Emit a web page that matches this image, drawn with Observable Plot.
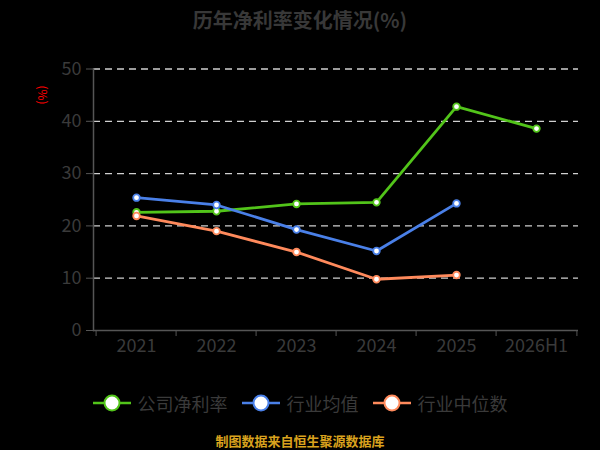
<!DOCTYPE html>
<html><head><meta charset="utf-8">
<script src="https://cdn.jsdelivr.net/npm/d3@7"></script>
<script src="https://cdn.jsdelivr.net/npm/@observablehq/plot@0.6"></script>
<style>
body{margin:0;background:#000;}
#c{position:relative;width:600px;height:450px;background:#000;font-family:"Noto Sans CJK SC","Noto Sans",sans-serif;overflow:hidden}
#title{position:absolute;left:0;top:5px;width:600px;text-align:center;font-size:20px;font-weight:bold;color:#383838;line-height:30px}
#ylab{position:absolute;left:33px;top:88px;color:#ff0000;font-size:12px;transform:rotate(90deg);transform-origin:center;line-height:14px}
#chart{position:absolute;left:0;top:40px}
#legend{position:absolute;left:0;top:390px;width:600px;display:flex;justify-content:center;align-items:center;height:26px}
.item{display:flex;align-items:center;margin:0 7px;font-size:18px;color:#3a3a3a}
.item svg{margin-right:7px}
#foot{position:absolute;left:0;top:432px;width:600px;text-align:center;font-size:13px;font-weight:bold;color:#d9a21e;line-height:18px}
</style></head><body><div id="c">
<div id="title">历年净利率变化情况(%)</div>
<div id="ylab">(%)</div>
<div id="chart"></div>
<div id="legend"></div>
<div id="foot">制图数据来自恒生聚源数据库</div>
</div>
<script>
const years = ["2021","2022","2023","2024","2025","2026H1"];
const company = [22.6, 22.8, 24.2, 24.5, 42.8, 38.6];
const industryMean = [25.4, 24.0, 19.3, 15.2, 24.3];
const industryMedian = [21.9, 19.0, 15.0, 9.8, 10.6];
const yTicks = [0, 10, 20, 30, 40, 50];
const seriesNames = ["公司净利率", "行业均值", "行业中位数"];
const colors = ["#52c41a", "#4a80e8", "#ff8a5c"];

const seriesValues = [company, industryMean, industryMedian];
const rows = [];
seriesValues.forEach((vals, i) => vals.forEach((v, j) => rows.push({year: years[j], value: v, series: seriesNames[i]})));

const ml = 93, mr = 22, W = 600;
const bw = (W - ml - mr) / years.length;
const font = '"Noto Sans CJK SC","Noto Sans",sans-serif';

const plot = Plot.plot({
  width: W, height: 330,
  marginLeft: ml, marginRight: mr, marginTop: 28.5, marginBottom: 40,
  style: {background: "transparent", color: "#3a3a3a", fontSize: "18px", fontFamily: font},
  x: {type: "band", domain: years, padding: 0},
  y: {domain: [0, 50]},
  color: {domain: seriesNames, range: colors},
  marks: [
    Plot.gridY(yTicks.filter(t => t > 0), {stroke: "#d0d0d0", strokeOpacity: 1, strokeDasharray: "7,5", strokeWidth: 1.3}),
    Plot.axisY({ticks: yTicks, tickSize: 7, tickPadding: 5, stroke: "#555", fill: "#3a3a3a", fontSize: 18, label: null}),
    Plot.axisX({tickSize: 0, tickPadding: 9, fill: "#3a3a3a", fontSize: 18, label: null}),
    Plot.axisX({ticks: years, tickSize: 6, tickFormat: () => "", dx: -bw / 2, stroke: "#555", label: null}),
    Plot.axisX({ticks: [years[years.length - 1]], tickSize: 6, tickFormat: () => "", dx: bw / 2, stroke: "#555", label: null}),
    Plot.frame({anchor: "left", stroke: "#555", strokeWidth: 1.5}),
    Plot.ruleY([0], {stroke: "#555", strokeWidth: 1.5}),
    Plot.line(rows, {x: "year", y: "value", stroke: "series", strokeWidth: 2.8}),
    Plot.dot(rows, {x: "year", y: "value", stroke: "series", fill: "white", r: 3.3, strokeWidth: 1.8})
  ]
});
document.getElementById("chart").appendChild(plot);

const leg = document.getElementById("legend");
seriesNames.forEach((name, i) => {
  const it = document.createElement("div");
  it.className = "item";
  it.innerHTML = `<svg width="38" height="20"><line x1="0" y1="10" x2="38" y2="10" stroke="${colors[i]}" stroke-width="2.5"/><circle cx="19" cy="10" r="7.5" fill="white" stroke="${colors[i]}" stroke-width="2"/></svg><span>${name}</span>`;
  leg.appendChild(it);
});
</script>
</body></html>
